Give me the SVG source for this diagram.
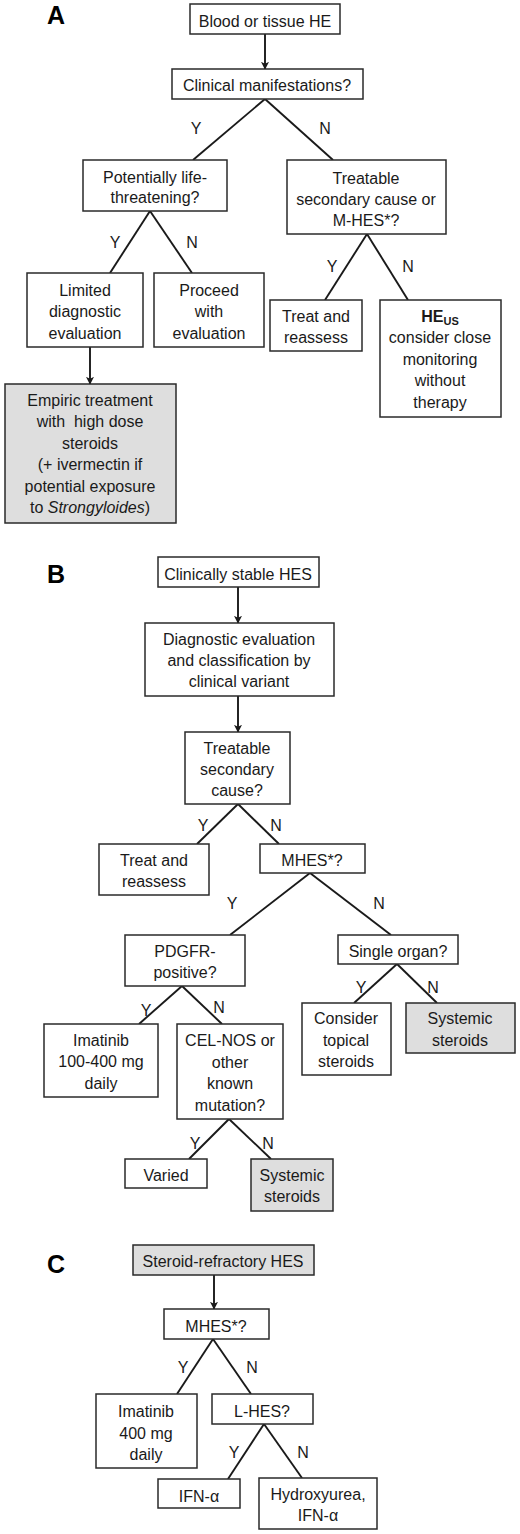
<svg xmlns="http://www.w3.org/2000/svg" width="520" height="1534" viewBox="0 0 520 1534">
<defs>
<marker id="ah" viewBox="0 0 10 10" refX="9" refY="5" markerWidth="8" markerHeight="9" orient="auto" markerUnits="userSpaceOnUse">
<path d="M0,0 L10,5 L0,10 L2.5,5 z" fill="#1a1a1a"/>
</marker>
<style>
.b{fill:#fff;stroke:#2a2a2a;stroke-width:1.5}
.g{fill:#dedede;stroke:#2a2a2a;stroke-width:1.5}
.t{font-family:"Liberation Sans",Arial,sans-serif;font-size:16px;fill:#1a1a1a;text-anchor:middle}
.yn{font-family:"Liberation Sans",Arial,sans-serif;font-size:16px;fill:#1a1a1a;text-anchor:middle}
.lab{font-family:"Liberation Sans",Arial,sans-serif;font-size:25px;font-weight:bold;fill:#000}
.c line{stroke:#1a1a1a;stroke-width:1.9}
.a{marker-end:url(#ah)}
</style>
</defs>
<rect width="520" height="1534" fill="#fff"/>
<text class="lab" x="47" y="24">A</text>
<text class="lab" x="47" y="583">B</text>
<text class="lab" x="47" y="1273">C</text>

<g class="c" id="connectors">
<line class="a" x1="265" y1="34" x2="265" y2="69"/>
<line x1="265" y1="99" x2="193" y2="160"/>
<line x1="265" y1="99" x2="333" y2="160"/>
<line x1="150" y1="211" x2="110" y2="273"/>
<line x1="150" y1="211" x2="192" y2="273"/>
<line class="a" x1="90" y1="347" x2="90" y2="384"/>
<line x1="367" y1="234" x2="325" y2="300"/>
<line x1="367" y1="234" x2="408" y2="300"/>
<line class="a" x1="238" y1="587" x2="238" y2="623"/>
<line class="a" x1="238" y1="696" x2="238" y2="732"/>
<line x1="238" y1="804" x2="197" y2="844"/>
<line x1="238" y1="804" x2="279" y2="844"/>
<line x1="310" y1="873" x2="230" y2="935"/>
<line x1="310" y1="873" x2="391" y2="935"/>
<line x1="182" y1="986" x2="139" y2="1024"/>
<line x1="182" y1="986" x2="222" y2="1024"/>
<line x1="397" y1="964" x2="354" y2="1003"/>
<line x1="397" y1="964" x2="437" y2="1003"/>
<line x1="229" y1="1119" x2="189" y2="1159"/>
<line x1="229" y1="1119" x2="271" y2="1159"/>
<line class="a" x1="214" y1="1275" x2="214" y2="1309"/>
<line x1="213" y1="1339" x2="177" y2="1394"/>
<line x1="213" y1="1339" x2="251" y2="1394"/>
<line x1="264" y1="1424" x2="228" y2="1479"/>
<line x1="264" y1="1424" x2="302" y2="1478"/>
</g>

<g id="yn-labels">
<text class="yn" x="196" y="134">Y</text>
<text class="yn" x="325" y="134">N</text>
<text class="yn" x="115" y="248">Y</text>
<text class="yn" x="192" y="248">N</text>
<text class="yn" x="332" y="272">Y</text>
<text class="yn" x="408" y="272">N</text>
<text class="yn" x="203" y="831">Y</text>
<text class="yn" x="276" y="831">N</text>
<text class="yn" x="232" y="909">Y</text>
<text class="yn" x="379" y="909">N</text>
<text class="yn" x="146" y="1016">Y</text>
<text class="yn" x="219" y="1013">N</text>
<text class="yn" x="361" y="993">Y</text>
<text class="yn" x="433" y="993">N</text>
<text class="yn" x="195" y="1149">Y</text>
<text class="yn" x="268" y="1149">N</text>
<text class="yn" x="183" y="1373">Y</text>
<text class="yn" x="252" y="1373">N</text>
<text class="yn" x="234" y="1458">Y</text>
<text class="yn" x="303" y="1458">N</text>
</g>

<g id="a-blood"><rect class="b" x="190" y="4" width="150" height="30"/><text class="t" x="265" y="27">Blood or tissue HE</text></g>
<g id="a-clinical"><rect class="b" x="172" y="69" width="191" height="30"/><text class="t" x="267" y="91">Clinical manifestations?</text></g>
<g id="a-life"><rect class="b" x="83" y="160" width="144" height="51"/><text class="t" x="155" y="183">Potentially life-</text><text class="t" x="155" y="203">threatening?</text></g>
<g id="a-treatable"><rect class="b" x="287" y="160" width="159" height="74"/><text class="t" x="366" y="184">Treatable</text><text class="t" x="366" y="205">secondary cause or</text><text class="t" x="366" y="226">M-HES*?</text></g>
<g id="a-limited"><rect class="b" x="27" y="273" width="116" height="74"/><text class="t" x="85" y="296">Limited</text><text class="t" x="85" y="317">diagnostic</text><text class="t" x="85" y="339">evaluation</text></g>
<g id="a-proceed"><rect class="b" x="154" y="273" width="110" height="74"/><text class="t" x="209" y="296">Proceed</text><text class="t" x="209" y="317">with</text><text class="t" x="209" y="339">evaluation</text></g>
<g id="a-treat"><rect class="b" x="270" y="300" width="92" height="51"/><text class="t" x="316" y="322">Treat and</text><text class="t" x="316" y="343">reassess</text></g>
<g id="a-heus"><rect class="b" x="380" y="300" width="121" height="117"/><text class="t" x="440" y="322" font-weight="bold">HE<tspan font-size="11" dy="3">US</tspan></text><text class="t" x="440" y="343">consider close</text><text class="t" x="440" y="365">monitoring</text><text class="t" x="440" y="386">without</text><text class="t" x="440" y="408">therapy</text></g>
<g id="a-empiric"><rect class="g" x="5" y="384" width="171" height="139"/><text class="t" x="90" y="406">Empiric treatment</text><text class="t" x="90" y="427" xml:space="preserve">with  high dose</text><text class="t" x="90" y="449">steroids</text><text class="t" x="90" y="470"> (+ ivermectin if</text><text class="t" x="90" y="492">potential exposure</text><text class="t" x="90" y="513">to <tspan font-style="italic">Strongyloides</tspan>)</text></g>

<g id="b-stable"><rect class="b" x="158" y="557" width="161" height="30"/><text class="t" x="238" y="580">Clinically stable HES</text></g>
<g id="b-diag"><rect class="b" x="145" y="623" width="189" height="73"/><text class="t" x="239" y="645">Diagnostic evaluation</text><text class="t" x="239" y="666">and classification by</text><text class="t" x="239" y="687">clinical variant</text></g>
<g id="b-treatable"><rect class="b" x="185" y="732" width="105" height="72"/><text class="t" x="237" y="754">Treatable</text><text class="t" x="237" y="775">secondary</text><text class="t" x="237" y="796">cause?</text></g>
<g id="b-treat"><rect class="b" x="99" y="844" width="110" height="51"/><text class="t" x="154" y="866">Treat and</text><text class="t" x="154" y="887">reassess</text></g>
<g id="b-mhes"><rect class="b" x="260" y="844" width="105" height="29"/><text class="t" x="312" y="866">MHES*?</text></g>
<g id="b-pdgfr"><rect class="b" x="125" y="935" width="120" height="51"/><text class="t" x="185" y="957">PDGFR-</text><text class="t" x="185" y="978">positive?</text></g>
<g id="b-single"><rect class="b" x="338" y="935" width="120" height="29"/><text class="t" x="398" y="957">Single organ?</text></g>
<g id="b-topical"><rect class="b" x="302" y="1003" width="89" height="72"/><text class="t" x="346" y="1024">Consider</text><text class="t" x="346" y="1046">topical</text><text class="t" x="346" y="1067">steroids</text></g>
<g id="b-sys1"><rect class="g" x="406" y="1003" width="109" height="50"/><text class="t" x="460" y="1024">Systemic</text><text class="t" x="460" y="1046">steroids</text></g>
<g id="b-imatinib"><rect class="b" x="44" y="1024" width="114" height="73"/><text class="t" x="101" y="1046">Imatinib</text><text class="t" x="101" y="1067">100-400 mg</text><text class="t" x="101" y="1089">daily</text></g>
<g id="b-celnos"><rect class="b" x="177" y="1024" width="106" height="95"/><text class="t" x="230" y="1046">CEL-NOS or</text><text class="t" x="230" y="1068">other</text><text class="t" x="230" y="1089">known</text><text class="t" x="230" y="1111">mutation?</text></g>
<g id="b-varied"><rect class="b" x="125" y="1159" width="82" height="29"/><text class="t" x="166" y="1181">Varied</text></g>
<g id="b-sys2"><rect class="g" x="251" y="1159" width="82" height="52"/><text class="t" x="292" y="1181">Systemic</text><text class="t" x="292" y="1202">steroids</text></g>

<g id="c-refractory"><rect class="g" x="133" y="1245" width="181" height="30"/><text class="t" x="223" y="1267">Steroid-refractory HES</text></g>
<g id="c-mhes"><rect class="b" x="164" y="1309" width="105" height="30"/><text class="t" x="216" y="1332">MHES*?</text></g>
<g id="c-imatinib"><rect class="b" x="96" y="1394" width="101" height="74"/><text class="t" x="146" y="1417">Imatinib</text><text class="t" x="146" y="1439">400 mg</text><text class="t" x="146" y="1460">daily</text></g>
<g id="c-lhes"><rect class="b" x="212" y="1394" width="101" height="30"/><text class="t" x="262" y="1417">L-HES?</text></g>
<g id="c-ifn"><rect class="b" x="158" y="1479" width="82" height="29"/><text class="t" x="199" y="1502">IFN-α</text></g>
<g id="c-hydroxy"><rect class="b" x="259" y="1478" width="118" height="51"/><text class="t" x="318" y="1500">Hydroxyurea,</text><text class="t" x="318" y="1521">IFN-α</text></g>
</svg>
